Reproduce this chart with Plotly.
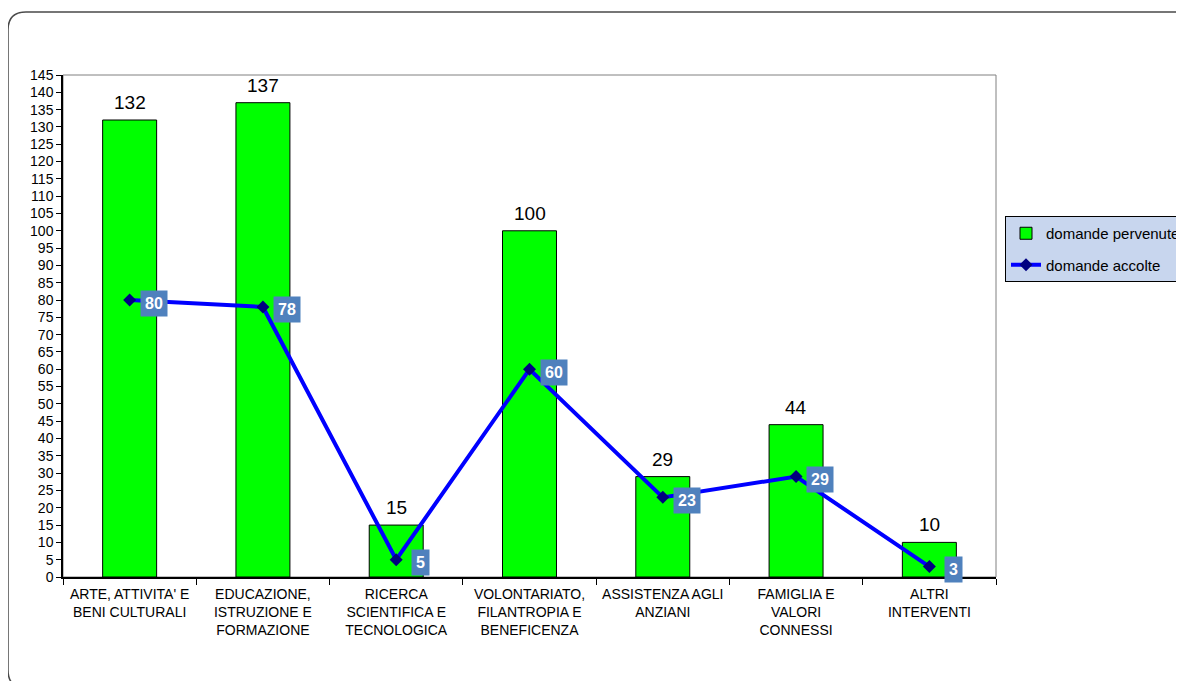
import plotly.graph_objects as go

categories = [
    "ARTE, ATTIVITA' E<br>BENI CULTURALI",
    "EDUCAZIONE,<br>ISTRUZIONE E<br>FORMAZIONE",
    "RICERCA<br>SCIENTIFICA E<br>TECNOLOGICA",
    "VOLONTARIATO,<br>FILANTROPIA E<br>BENEFICENZA",
    "ASSISTENZA AGLI<br>ANZIANI",
    "FAMIGLIA E<br>VALORI<br>CONNESSI",
    "ALTRI<br>INTERVENTI",
]
pervenute = [132, 137, 15, 100, 29, 44, 10]
accolte = [80, 78, 5, 60, 23, 29, 3]
y_ticks = list(range(0, 146, 5))

OFF = 8  # page offset of the figure inside the browser window
W, H = 1184 - OFF, 681 - OFF
L, R, T, B = 63 - OFF, 996 - OFF, 75 - OFF, 577 - OFF

def px(x):
    return (x - OFF - L) / (R - L)

def py(y):
    return (B - (y - OFF)) / (B - T)

fig = go.Figure()
fig.add_trace(go.Bar(
    x=categories, y=pervenute, name="domande pervenute",
    marker=dict(color="#00FF00", line=dict(color="#000000", width=1)),
    legendgroup="a",
))
fig.add_trace(go.Scatter(
    x=categories, y=accolte, name="domande accolte", mode="lines+markers",
    line=dict(color="#0000FF", width=4),
    marker=dict(symbol="diamond", size=10, color="#000080"),
    legendgroup="b",
))

for c, v in zip(categories, pervenute):
    fig.add_annotation(
        x=c, y=v, text=str(v), showarrow=False, yanchor="bottom", yshift=5,
        font=dict(family="Arial", size=19, color="#000000"),
    )

for c, v in zip(categories, accolte):
    fig.add_annotation(
        x=c, y=v, text="<b>%d</b>" % v, showarrow=False,
        xshift=24, yshift=-3, bgcolor="#4F81BD", borderpad=4,
        font=dict(family="Arial", size=16, color="#FFFFFF"),
    )

# outer rounded frame (reference pixel coordinates)
x0, x1, y0, y1, r = 8, 1192, 12, 688, 18
path = (
    f"M {px(x0)},{py(y0 + r)} "
    f"Q {px(x0)},{py(y0)} {px(x0 + r)},{py(y0)} "
    f"L {px(x1 - r)},{py(y0)} "
    f"Q {px(x1)},{py(y0)} {px(x1)},{py(y0 + r)} "
    f"L {px(x1)},{py(y1 - r)} "
    f"Q {px(x1)},{py(y1)} {px(x1 - r)},{py(y1)} "
    f"L {px(x0 + r)},{py(y1)} "
    f"Q {px(x0)},{py(y1)} {px(x0)},{py(y1 - r)} Z"
)
fig.add_shape(type="path", path=path, xref="paper", yref="paper",
              line=dict(color="#4A4A4A", width=1.5), layer="below")
fig.add_shape(type="rect", x0=0, x1=1, y0=0, y1=1, xref="paper", yref="paper",
              line=dict(color="#808080", width=1), layer="below")

fig.update_layout(
    width=W, height=H,
    margin=dict(l=L, r=W - R, t=T, b=H - B, autoexpand=False),
    paper_bgcolor="#FFFFFF", plot_bgcolor="#FFFFFF",
    font=dict(family="Arial", size=12, color="#000000"),
    bargap=0.595,
    showlegend=True,
    legend=dict(
        x=px(1005), y=py(216), xanchor="left", yanchor="top",
        bgcolor="#C8D6EE", bordercolor="#000000", borderwidth=1,
        font=dict(family="Arial", size=15, color="#000000"),
        traceorder="grouped", tracegroupgap=9,
    ),
    xaxis=dict(
        type="category", tickson="boundaries", ticks="outside", ticklen=6,
        tickcolor="#000000", showline=True, linecolor="#000000", linewidth=1.5,
        showgrid=False, tickfont=dict(family="Arial", size=14, color="#000000"),
        ticklabelstandoff=3, range=[-0.5, 6.5],
    ),
    yaxis=dict(
        range=[0, 145], tickmode="array", tickvals=y_ticks, ticks="outside",
        ticklen=5, tickcolor="#000000", showline=True, linecolor="#000000",
        linewidth=1.5, showgrid=False, zeroline=False,
        tickfont=dict(family="Arial", size=14, color="#000000"),
    ),
    yaxis2=dict(
        range=[0, 145], tickmode="array", tickvals=y_ticks, ticks="inside",
        ticklen=5, tickcolor="#000000", showline=False, showgrid=False,
        zeroline=False, showticklabels=False, overlaying="y", side="left",
    ),
)

fig.write_html("out.html")
